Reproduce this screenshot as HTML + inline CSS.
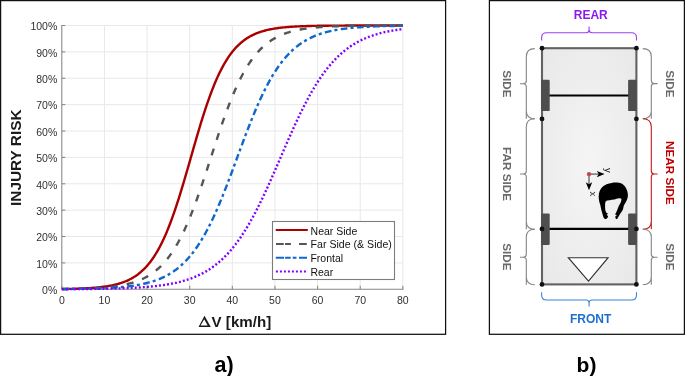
<!DOCTYPE html>
<html><head><meta charset="utf-8"><style>
html,body{margin:0;padding:0;background:#fff;}
svg{display:block;will-change:transform;font-family:"Liberation Sans",sans-serif;}
</style></head><body>
<svg width="685" height="376" viewBox="0 0 685 376">
<defs>
<radialGradient id="car" cx="0.5" cy="0.5" r="0.75">
<stop offset="0" stop-color="#f5f5f5"/><stop offset="1" stop-color="#e7e7e7"/>
</radialGradient>
</defs>
<rect x="0" y="0" width="685" height="376" fill="#fff"/>
<!-- panel a -->
<rect x="0.6" y="0.6" width="445" height="333.7" fill="none" stroke="#111" stroke-width="1.25"/>
<g stroke="#e8e8e8" stroke-width="1" fill="none"><line x1="104.43" y1="25.5" x2="104.43" y2="289.3"/><line x1="147.06" y1="25.5" x2="147.06" y2="289.3"/><line x1="189.69" y1="25.5" x2="189.69" y2="289.3"/><line x1="232.32" y1="25.5" x2="232.32" y2="289.3"/><line x1="274.96" y1="25.5" x2="274.96" y2="289.3"/><line x1="317.59" y1="25.5" x2="317.59" y2="289.3"/><line x1="360.22" y1="25.5" x2="360.22" y2="289.3"/><line x1="402.85" y1="25.5" x2="402.85" y2="289.3"/><line x1="61.8" y1="262.92" x2="402.85" y2="262.92"/><line x1="61.8" y1="236.54" x2="402.85" y2="236.54"/><line x1="61.8" y1="210.16" x2="402.85" y2="210.16"/><line x1="61.8" y1="183.78" x2="402.85" y2="183.78"/><line x1="61.8" y1="157.40" x2="402.85" y2="157.40"/><line x1="61.8" y1="131.02" x2="402.85" y2="131.02"/><line x1="61.8" y1="104.64" x2="402.85" y2="104.64"/><line x1="61.8" y1="78.26" x2="402.85" y2="78.26"/><line x1="61.8" y1="51.88" x2="402.85" y2="51.88"/><line x1="61.8" y1="25.50" x2="402.85" y2="25.50"/></g>
<g stroke="#868686" stroke-width="1.05" fill="none">
<line x1="61.8" y1="24.9" x2="61.8" y2="289.3"/><line x1="61.8" y1="289.3" x2="403.45000000000005" y2="289.3"/>
<line x1="61.80" y1="289.3" x2="61.80" y2="285.8"/><line x1="104.43" y1="289.3" x2="104.43" y2="285.8"/><line x1="147.06" y1="289.3" x2="147.06" y2="285.8"/><line x1="189.69" y1="289.3" x2="189.69" y2="285.8"/><line x1="232.32" y1="289.3" x2="232.32" y2="285.8"/><line x1="274.96" y1="289.3" x2="274.96" y2="285.8"/><line x1="317.59" y1="289.3" x2="317.59" y2="285.8"/><line x1="360.22" y1="289.3" x2="360.22" y2="285.8"/><line x1="402.85" y1="289.3" x2="402.85" y2="285.8"/><line x1="61.8" y1="289.30" x2="65.3" y2="289.30"/><line x1="61.8" y1="262.92" x2="65.3" y2="262.92"/><line x1="61.8" y1="236.54" x2="65.3" y2="236.54"/><line x1="61.8" y1="210.16" x2="65.3" y2="210.16"/><line x1="61.8" y1="183.78" x2="65.3" y2="183.78"/><line x1="61.8" y1="157.40" x2="65.3" y2="157.40"/><line x1="61.8" y1="131.02" x2="65.3" y2="131.02"/><line x1="61.8" y1="104.64" x2="65.3" y2="104.64"/><line x1="61.8" y1="78.26" x2="65.3" y2="78.26"/><line x1="61.8" y1="51.88" x2="65.3" y2="51.88"/><line x1="61.8" y1="25.50" x2="65.3" y2="25.50"/></g>
<g fill="none" stroke-width="2.4"><path d="M61.80,289.02 L62.87,289.01 L63.93,288.99 L65.00,288.97 L66.06,288.95 L67.13,288.93 L68.19,288.91 L69.26,288.89 L70.33,288.86 L71.39,288.84 L72.46,288.81 L73.52,288.78 L74.59,288.75 L75.66,288.72 L76.72,288.69 L77.79,288.65 L78.85,288.61 L79.92,288.57 L80.98,288.53 L82.05,288.49 L83.12,288.44 L84.18,288.39 L85.25,288.34 L86.31,288.28 L87.38,288.22 L88.44,288.16 L89.51,288.09 L90.58,288.02 L91.64,287.95 L92.71,287.87 L93.77,287.79 L94.84,287.70 L95.91,287.61 L96.97,287.51 L98.04,287.41 L99.10,287.30 L100.17,287.18 L101.23,287.06 L102.30,286.93 L103.37,286.79 L104.43,286.65 L105.50,286.49 L106.56,286.33 L107.63,286.16 L108.69,285.98 L109.76,285.79 L110.83,285.59 L111.89,285.38 L112.96,285.15 L114.02,284.91 L115.09,284.66 L116.15,284.40 L117.22,284.12 L118.29,283.82 L119.35,283.51 L120.42,283.18 L121.48,282.84 L122.55,282.47 L123.62,282.08 L124.68,281.68 L125.75,281.24 L126.81,280.79 L127.88,280.31 L128.94,279.81 L130.01,279.28 L131.08,278.72 L132.14,278.13 L133.21,277.51 L134.27,276.85 L135.34,276.16 L136.40,275.44 L137.47,274.68 L138.54,273.88 L139.60,273.03 L140.67,272.15 L141.73,271.22 L142.80,270.24 L143.87,269.22 L144.93,268.14 L146.00,267.01 L147.06,265.83 L148.13,264.59 L149.19,263.30 L150.26,261.94 L151.33,260.52 L152.39,259.04 L153.46,257.49 L154.52,255.87 L155.59,254.19 L156.65,252.43 L157.72,250.60 L158.79,248.69 L159.85,246.71 L160.92,244.65 L161.98,242.51 L163.05,240.29 L164.12,238.00 L165.18,235.62 L166.25,233.16 L167.31,230.62 L168.38,228.00 L169.44,225.29 L170.51,222.51 L171.58,219.65 L172.64,216.71 L173.71,213.70 L174.77,210.61 L175.84,207.45 L176.90,204.22 L177.97,200.93 L179.04,197.57 L180.10,194.16 L181.17,190.69 L182.23,187.17 L183.30,183.61 L184.36,180.01 L185.43,176.37 L186.50,172.70 L187.56,169.01 L188.63,165.30 L189.69,161.58 L190.76,157.85 L191.83,154.12 L192.89,150.39 L193.96,146.68 L195.02,142.98 L196.09,139.31 L197.15,135.66 L198.22,132.05 L199.29,128.48 L200.35,124.95 L201.42,121.47 L202.48,118.04 L203.55,114.67 L204.61,111.36 L205.68,108.12 L206.75,104.94 L207.81,101.84 L208.88,98.81 L209.94,95.85 L211.01,92.97 L212.08,90.17 L213.14,87.45 L214.21,84.80 L215.27,82.24 L216.34,79.77 L217.40,77.37 L218.47,75.05 L219.54,72.81 L220.60,70.66 L221.67,68.58 L222.73,66.58 L223.80,64.65 L224.86,62.80 L225.93,61.03 L227.00,59.33 L228.06,57.69 L229.13,56.13 L230.19,54.63 L231.26,53.19 L232.32,51.82 L233.39,50.51 L234.46,49.26 L235.52,48.07 L236.59,46.92 L237.65,45.84 L238.72,44.80 L239.79,43.81 L240.85,42.87 L241.92,41.98 L242.98,41.12 L244.05,40.31 L245.11,39.54 L246.18,38.81 L247.25,38.11 L248.31,37.45 L249.38,36.82 L250.44,36.22 L251.51,35.65 L252.57,35.12 L253.64,34.61 L254.71,34.12 L255.77,33.66 L256.84,33.23 L257.90,32.81 L258.97,32.42 L260.04,32.05 L261.10,31.70 L262.17,31.36 L263.23,31.05 L264.30,30.75 L265.36,30.47 L266.43,30.20 L267.50,29.94 L268.56,29.70 L269.63,29.48 L270.69,29.26 L271.76,29.06 L272.82,28.86 L273.89,28.68 L274.96,28.51 L276.02,28.34 L277.09,28.19 L278.15,28.04 L279.22,27.90 L280.29,27.77 L281.35,27.65 L282.42,27.53 L283.48,27.42 L284.55,27.32 L285.61,27.22 L286.68,27.12 L287.75,27.03 L288.81,26.95 L289.88,26.87 L290.94,26.80 L292.01,26.72 L293.07,26.66 L294.14,26.59 L295.21,26.53 L296.27,26.48 L297.34,26.42 L298.40,26.37 L299.47,26.33 L300.53,26.28 L301.60,26.24 L302.67,26.20 L303.73,26.16 L304.80,26.12 L305.86,26.09 L306.93,26.06 L308.00,26.03 L309.06,26.00 L310.13,25.97 L311.19,25.94 L312.26,25.92 L313.32,25.90 L314.39,25.87 L315.46,25.85 L316.52,25.83 L317.59,25.82 L318.65,25.80 L319.72,25.78 L320.78,25.77 L321.85,25.75 L322.92,25.74 L323.98,25.73 L325.05,25.71 L326.11,25.70 L327.18,25.69 L328.25,25.68 L329.31,25.67 L330.38,25.66 L331.44,25.65 L332.51,25.64 L333.57,25.64 L334.64,25.63 L335.71,25.62 L336.77,25.61 L337.84,25.61 L338.90,25.60 L339.97,25.60 L341.03,25.59 L342.10,25.59 L343.17,25.58 L344.23,25.58 L345.30,25.57 L346.36,25.57 L347.43,25.56 L348.50,25.56 L349.56,25.56 L350.63,25.55 L351.69,25.55 L352.76,25.55 L353.82,25.55 L354.89,25.54 L355.96,25.54 L357.02,25.54 L358.09,25.54 L359.15,25.53 L360.22,25.53 L361.28,25.53 L362.35,25.53 L363.42,25.53 L364.48,25.53 L365.55,25.52 L366.61,25.52 L367.68,25.52 L368.75,25.52 L369.81,25.52 L370.88,25.52 L371.94,25.52 L373.01,25.52 L374.07,25.52 L375.14,25.51 L376.21,25.51 L377.27,25.51 L378.34,25.51 L379.40,25.51 L380.47,25.51 L381.53,25.51 L382.60,25.51 L383.67,25.51 L384.73,25.51 L385.80,25.51 L386.86,25.51 L387.93,25.51 L388.99,25.51 L390.06,25.51 L391.13,25.51 L392.19,25.51 L393.26,25.51 L394.32,25.51 L395.39,25.51 L396.46,25.50 L397.52,25.50 L398.59,25.50 L399.65,25.50 L400.72,25.50 L401.78,25.50 L402.85,25.50" stroke="#aa0000"/><path d="M61.80,289.05 L62.87,289.04 L63.93,289.03 L65.00,289.01 L66.06,289.00 L67.13,288.98 L68.19,288.96 L69.26,288.95 L70.33,288.93 L71.39,288.91 L72.46,288.89 L73.52,288.87 L74.59,288.85 L75.66,288.83 L76.72,288.80 L77.79,288.78 L78.85,288.75 L79.92,288.72 L80.98,288.69 L82.05,288.66 L83.12,288.63 L84.18,288.59 L85.25,288.56 L86.31,288.52 L87.38,288.48 L88.44,288.44 L89.51,288.39 L90.58,288.35 L91.64,288.30 L92.71,288.25 L93.77,288.20 L94.84,288.14 L95.91,288.08 L96.97,288.02 L98.04,287.95 L99.10,287.89 L100.17,287.81 L101.23,287.74 L102.30,287.66 L103.37,287.58 L104.43,287.49 L105.50,287.40 L106.56,287.30 L107.63,287.20 L108.69,287.09 L109.76,286.98 L110.83,286.86 L111.89,286.74 L112.96,286.61 L114.02,286.48 L115.09,286.33 L116.15,286.18 L117.22,286.03 L118.29,285.86 L119.35,285.69 L120.42,285.51 L121.48,285.32 L122.55,285.12 L123.62,284.91 L124.68,284.69 L125.75,284.46 L126.81,284.21 L127.88,283.96 L128.94,283.69 L130.01,283.41 L131.08,283.12 L132.14,282.81 L133.21,282.49 L134.27,282.15 L135.34,281.80 L136.40,281.43 L137.47,281.04 L138.54,280.63 L139.60,280.20 L140.67,279.75 L141.73,279.28 L142.80,278.79 L143.87,278.28 L144.93,277.74 L146.00,277.18 L147.06,276.59 L148.13,275.98 L149.19,275.33 L150.26,274.66 L151.33,273.95 L152.39,273.22 L153.46,272.45 L154.52,271.65 L155.59,270.81 L156.65,269.94 L157.72,269.02 L158.79,268.07 L159.85,267.08 L160.92,266.05 L161.98,264.97 L163.05,263.85 L164.12,262.68 L165.18,261.46 L166.25,260.20 L167.31,258.89 L168.38,257.52 L169.44,256.10 L170.51,254.63 L171.58,253.10 L172.64,251.52 L173.71,249.88 L174.77,248.18 L175.84,246.43 L176.90,244.61 L177.97,242.73 L179.04,240.79 L180.10,238.79 L181.17,236.73 L182.23,234.60 L183.30,232.41 L184.36,230.16 L185.43,227.84 L186.50,225.46 L187.56,223.03 L188.63,220.53 L189.69,217.96 L190.76,215.34 L191.83,212.67 L192.89,209.93 L193.96,207.14 L195.02,204.30 L196.09,201.41 L197.15,198.47 L198.22,195.48 L199.29,192.45 L200.35,189.38 L201.42,186.27 L202.48,183.13 L203.55,179.96 L204.61,176.76 L205.68,173.54 L206.75,170.29 L207.81,167.03 L208.88,163.76 L209.94,160.49 L211.01,157.20 L212.08,153.92 L213.14,150.64 L214.21,147.37 L215.27,144.12 L216.34,140.88 L217.40,137.66 L218.47,134.46 L219.54,131.29 L220.60,128.15 L221.67,125.05 L222.73,121.98 L223.80,118.96 L224.86,115.98 L225.93,113.04 L227.00,110.15 L228.06,107.32 L229.13,104.54 L230.19,101.81 L231.26,99.14 L232.32,96.53 L233.39,93.97 L234.46,91.48 L235.52,89.05 L236.59,86.68 L237.65,84.37 L238.72,82.12 L239.79,79.94 L240.85,77.82 L241.92,75.77 L242.98,73.77 L244.05,71.84 L245.11,69.97 L246.18,68.16 L247.25,66.41 L248.31,64.72 L249.38,63.08 L250.44,61.51 L251.51,59.99 L252.57,58.52 L253.64,57.11 L254.71,55.75 L255.77,54.45 L256.84,53.19 L257.90,51.98 L258.97,50.82 L260.04,49.70 L261.10,48.63 L262.17,47.60 L263.23,46.61 L264.30,45.66 L265.36,44.76 L266.43,43.89 L267.50,43.05 L268.56,42.26 L269.63,41.49 L270.69,40.76 L271.76,40.06 L272.82,39.39 L273.89,38.75 L274.96,38.14 L276.02,37.55 L277.09,36.99 L278.15,36.46 L279.22,35.95 L280.29,35.46 L281.35,34.99 L282.42,34.55 L283.48,34.12 L284.55,33.72 L285.61,33.33 L286.68,32.96 L287.75,32.61 L288.81,32.27 L289.88,31.95 L290.94,31.64 L292.01,31.35 L293.07,31.07 L294.14,30.81 L295.21,30.56 L296.27,30.32 L297.34,30.09 L298.40,29.87 L299.47,29.66 L300.53,29.46 L301.60,29.27 L302.67,29.09 L303.73,28.92 L304.80,28.75 L305.86,28.60 L306.93,28.45 L308.00,28.31 L309.06,28.17 L310.13,28.04 L311.19,27.92 L312.26,27.80 L313.32,27.69 L314.39,27.59 L315.46,27.49 L316.52,27.39 L317.59,27.30 L318.65,27.21 L319.72,27.13 L320.78,27.05 L321.85,26.98 L322.92,26.91 L323.98,26.84 L325.05,26.77 L326.11,26.71 L327.18,26.65 L328.25,26.60 L329.31,26.54 L330.38,26.49 L331.44,26.45 L332.51,26.40 L333.57,26.36 L334.64,26.31 L335.71,26.28 L336.77,26.24 L337.84,26.20 L338.90,26.17 L339.97,26.14 L341.03,26.10 L342.10,26.08 L343.17,26.05 L344.23,26.02 L345.30,26.00 L346.36,25.97 L347.43,25.95 L348.50,25.93 L349.56,25.91 L350.63,25.89 L351.69,25.87 L352.76,25.85 L353.82,25.83 L354.89,25.82 L355.96,25.80 L357.02,25.79 L358.09,25.77 L359.15,25.76 L360.22,25.75 L361.28,25.74 L362.35,25.72 L363.42,25.71 L364.48,25.70 L365.55,25.69 L366.61,25.68 L367.68,25.67 L368.75,25.67 L369.81,25.66 L370.88,25.65 L371.94,25.64 L373.01,25.64 L374.07,25.63 L375.14,25.62 L376.21,25.62 L377.27,25.61 L378.34,25.61 L379.40,25.60 L380.47,25.60 L381.53,25.59 L382.60,25.59 L383.67,25.58 L384.73,25.58 L385.80,25.57 L386.86,25.57 L387.93,25.57 L388.99,25.56 L390.06,25.56 L391.13,25.56 L392.19,25.56 L393.26,25.55 L394.32,25.55 L395.39,25.55 L396.46,25.55 L397.52,25.54 L398.59,25.54 L399.65,25.54 L400.72,25.54 L401.78,25.54 L402.85,25.53" stroke="#555555" stroke-dasharray="7.05 9.17" stroke-dashoffset="-0.25"/><path d="M61.80,289.11 L62.87,289.10 L63.93,289.09 L65.00,289.08 L66.06,289.07 L67.13,289.06 L68.19,289.05 L69.26,289.04 L70.33,289.02 L71.39,289.01 L72.46,289.00 L73.52,288.99 L74.59,288.97 L75.66,288.96 L76.72,288.94 L77.79,288.92 L78.85,288.91 L79.92,288.89 L80.98,288.87 L82.05,288.85 L83.12,288.83 L84.18,288.81 L85.25,288.79 L86.31,288.77 L87.38,288.74 L88.44,288.72 L89.51,288.69 L90.58,288.67 L91.64,288.64 L92.71,288.61 L93.77,288.58 L94.84,288.55 L95.91,288.51 L96.97,288.48 L98.04,288.44 L99.10,288.40 L100.17,288.36 L101.23,288.32 L102.30,288.28 L103.37,288.23 L104.43,288.18 L105.50,288.13 L106.56,288.08 L107.63,288.03 L108.69,287.97 L109.76,287.91 L110.83,287.85 L111.89,287.78 L112.96,287.72 L114.02,287.64 L115.09,287.57 L116.15,287.49 L117.22,287.41 L118.29,287.33 L119.35,287.24 L120.42,287.15 L121.48,287.06 L122.55,286.96 L123.62,286.85 L124.68,286.74 L125.75,286.63 L126.81,286.51 L127.88,286.39 L128.94,286.26 L130.01,286.13 L131.08,285.99 L132.14,285.84 L133.21,285.69 L134.27,285.53 L135.34,285.36 L136.40,285.19 L137.47,285.01 L138.54,284.82 L139.60,284.62 L140.67,284.41 L141.73,284.20 L142.80,283.98 L143.87,283.74 L144.93,283.50 L146.00,283.24 L147.06,282.98 L148.13,282.70 L149.19,282.42 L150.26,282.12 L151.33,281.80 L152.39,281.48 L153.46,281.14 L154.52,280.79 L155.59,280.42 L156.65,280.03 L157.72,279.63 L158.79,279.22 L159.85,278.78 L160.92,278.33 L161.98,277.86 L163.05,277.37 L164.12,276.87 L165.18,276.34 L166.25,275.79 L167.31,275.21 L168.38,274.62 L169.44,274.00 L170.51,273.35 L171.58,272.69 L172.64,271.99 L173.71,271.27 L174.77,270.52 L175.84,269.74 L176.90,268.93 L177.97,268.09 L179.04,267.22 L180.10,266.32 L181.17,265.38 L182.23,264.41 L183.30,263.41 L184.36,262.37 L185.43,261.29 L186.50,260.18 L187.56,259.02 L188.63,257.83 L189.69,256.59 L190.76,255.32 L191.83,254.00 L192.89,252.64 L193.96,251.23 L195.02,249.78 L196.09,248.29 L197.15,246.75 L198.22,245.16 L199.29,243.53 L200.35,241.85 L201.42,240.12 L202.48,238.35 L203.55,236.52 L204.61,234.65 L205.68,232.72 L206.75,230.75 L207.81,228.73 L208.88,226.67 L209.94,224.55 L211.01,222.39 L212.08,220.18 L213.14,217.92 L214.21,215.62 L215.27,213.27 L216.34,210.87 L217.40,208.44 L218.47,205.96 L219.54,203.45 L220.60,200.89 L221.67,198.30 L222.73,195.67 L223.80,193.01 L224.86,190.31 L225.93,187.59 L227.00,184.84 L228.06,182.06 L229.13,179.27 L230.19,176.45 L231.26,173.61 L232.32,170.76 L233.39,167.89 L234.46,165.02 L235.52,162.14 L236.59,159.25 L237.65,156.36 L238.72,153.47 L239.79,150.59 L240.85,147.71 L241.92,144.84 L242.98,141.99 L244.05,139.15 L245.11,136.32 L246.18,133.52 L247.25,130.74 L248.31,127.98 L249.38,125.25 L250.44,122.54 L251.51,119.87 L252.57,117.24 L253.64,114.63 L254.71,112.07 L255.77,109.54 L256.84,107.05 L257.90,104.60 L258.97,102.20 L260.04,99.84 L261.10,97.52 L262.17,95.25 L263.23,93.03 L264.30,90.85 L265.36,88.72 L266.43,86.64 L267.50,84.61 L268.56,82.62 L269.63,80.69 L270.69,78.80 L271.76,76.96 L272.82,75.17 L273.89,73.43 L274.96,71.73 L276.02,70.09 L277.09,68.49 L278.15,66.94 L279.22,65.43 L280.29,63.97 L281.35,62.55 L282.42,61.18 L283.48,59.85 L284.55,58.56 L285.61,57.31 L286.68,56.11 L287.75,54.94 L288.81,53.82 L289.88,52.73 L290.94,51.68 L292.01,50.66 L293.07,49.68 L294.14,48.74 L295.21,47.83 L296.27,46.95 L297.34,46.10 L298.40,45.28 L299.47,44.50 L300.53,43.74 L301.60,43.01 L302.67,42.31 L303.73,41.63 L304.80,40.98 L305.86,40.35 L306.93,39.75 L308.00,39.17 L309.06,38.62 L310.13,38.08 L311.19,37.57 L312.26,37.07 L313.32,36.60 L314.39,36.14 L315.46,35.70 L316.52,35.28 L317.59,34.88 L318.65,34.49 L319.72,34.12 L320.78,33.76 L321.85,33.42 L322.92,33.09 L323.98,32.77 L325.05,32.47 L326.11,32.18 L327.18,31.90 L328.25,31.63 L329.31,31.37 L330.38,31.13 L331.44,30.89 L332.51,30.66 L333.57,30.45 L334.64,30.24 L335.71,30.04 L336.77,29.85 L337.84,29.66 L338.90,29.49 L339.97,29.32 L341.03,29.16 L342.10,29.00 L343.17,28.85 L344.23,28.71 L345.30,28.58 L346.36,28.45 L347.43,28.32 L348.50,28.20 L349.56,28.09 L350.63,27.98 L351.69,27.87 L352.76,27.77 L353.82,27.67 L354.89,27.58 L355.96,27.49 L357.02,27.41 L358.09,27.33 L359.15,27.25 L360.22,27.18 L361.28,27.10 L362.35,27.04 L363.42,26.97 L364.48,26.91 L365.55,26.85 L366.61,26.79 L367.68,26.74 L368.75,26.68 L369.81,26.63 L370.88,26.58 L371.94,26.54 L373.01,26.49 L374.07,26.45 L375.14,26.41 L376.21,26.37 L377.27,26.33 L378.34,26.30 L379.40,26.26 L380.47,26.23 L381.53,26.20 L382.60,26.17 L383.67,26.14 L384.73,26.11 L385.80,26.09 L386.86,26.06 L387.93,26.04 L388.99,26.02 L390.06,25.99 L391.13,25.97 L392.19,25.95 L393.26,25.93 L394.32,25.91 L395.39,25.90 L396.46,25.88 L397.52,25.86 L398.59,25.85 L399.65,25.83 L400.72,25.82 L401.78,25.81 L402.85,25.79" stroke="#1068cc" stroke-dasharray="6.73 3.12 3.0 3.37" stroke-dashoffset="-0.6"/><path d="M61.80,289.18 L62.87,289.17 L63.93,289.17 L65.00,289.16 L66.06,289.16 L67.13,289.15 L68.19,289.15 L69.26,289.14 L70.33,289.14 L71.39,289.13 L72.46,289.12 L73.52,289.12 L74.59,289.11 L75.66,289.10 L76.72,289.10 L77.79,289.09 L78.85,289.08 L79.92,289.07 L80.98,289.06 L82.05,289.05 L83.12,289.04 L84.18,289.03 L85.25,289.02 L86.31,289.01 L87.38,289.00 L88.44,288.99 L89.51,288.98 L90.58,288.97 L91.64,288.95 L92.71,288.94 L93.77,288.93 L94.84,288.91 L95.91,288.90 L96.97,288.88 L98.04,288.87 L99.10,288.85 L100.17,288.83 L101.23,288.82 L102.30,288.80 L103.37,288.78 L104.43,288.76 L105.50,288.74 L106.56,288.72 L107.63,288.69 L108.69,288.67 L109.76,288.65 L110.83,288.62 L111.89,288.60 L112.96,288.57 L114.02,288.54 L115.09,288.51 L116.15,288.48 L117.22,288.45 L118.29,288.42 L119.35,288.39 L120.42,288.35 L121.48,288.32 L122.55,288.28 L123.62,288.24 L124.68,288.20 L125.75,288.16 L126.81,288.12 L127.88,288.07 L128.94,288.02 L130.01,287.98 L131.08,287.92 L132.14,287.87 L133.21,287.82 L134.27,287.76 L135.34,287.70 L136.40,287.64 L137.47,287.58 L138.54,287.52 L139.60,287.45 L140.67,287.38 L141.73,287.31 L142.80,287.23 L143.87,287.15 L144.93,287.07 L146.00,286.99 L147.06,286.90 L148.13,286.81 L149.19,286.71 L150.26,286.62 L151.33,286.52 L152.39,286.41 L153.46,286.30 L154.52,286.19 L155.59,286.07 L156.65,285.95 L157.72,285.82 L158.79,285.69 L159.85,285.56 L160.92,285.42 L161.98,285.27 L163.05,285.12 L164.12,284.96 L165.18,284.80 L166.25,284.63 L167.31,284.46 L168.38,284.28 L169.44,284.09 L170.51,283.89 L171.58,283.69 L172.64,283.48 L173.71,283.27 L174.77,283.04 L175.84,282.81 L176.90,282.57 L177.97,282.32 L179.04,282.06 L180.10,281.79 L181.17,281.51 L182.23,281.22 L183.30,280.92 L184.36,280.62 L185.43,280.30 L186.50,279.96 L187.56,279.62 L188.63,279.27 L189.69,278.90 L190.76,278.52 L191.83,278.13 L192.89,277.72 L193.96,277.30 L195.02,276.86 L196.09,276.41 L197.15,275.94 L198.22,275.46 L199.29,274.96 L200.35,274.44 L201.42,273.91 L202.48,273.36 L203.55,272.79 L204.61,272.20 L205.68,271.59 L206.75,270.96 L207.81,270.32 L208.88,269.65 L209.94,268.95 L211.01,268.24 L212.08,267.50 L213.14,266.74 L214.21,265.96 L215.27,265.15 L216.34,264.32 L217.40,263.46 L218.47,262.57 L219.54,261.66 L220.60,260.72 L221.67,259.75 L222.73,258.75 L223.80,257.73 L224.86,256.67 L225.93,255.59 L227.00,254.47 L228.06,253.33 L229.13,252.15 L230.19,250.94 L231.26,249.69 L232.32,248.42 L233.39,247.11 L234.46,245.76 L235.52,244.39 L236.59,242.97 L237.65,241.53 L238.72,240.05 L239.79,238.53 L240.85,236.98 L241.92,235.39 L242.98,233.77 L244.05,232.11 L245.11,230.41 L246.18,228.69 L247.25,226.92 L248.31,225.12 L249.38,223.29 L250.44,221.42 L251.51,219.51 L252.57,217.57 L253.64,215.60 L254.71,213.60 L255.77,211.56 L256.84,209.50 L257.90,207.40 L258.97,205.27 L260.04,203.11 L261.10,200.93 L262.17,198.71 L263.23,196.47 L264.30,194.21 L265.36,191.92 L266.43,189.61 L267.50,187.28 L268.56,184.93 L269.63,182.56 L270.69,180.17 L271.76,177.77 L272.82,175.35 L273.89,172.93 L274.96,170.49 L276.02,168.04 L277.09,165.58 L278.15,163.12 L279.22,160.66 L280.29,158.19 L281.35,155.72 L282.42,153.25 L283.48,150.79 L284.55,148.33 L285.61,145.88 L286.68,143.43 L287.75,141.00 L288.81,138.57 L289.88,136.16 L290.94,133.77 L292.01,131.39 L293.07,129.02 L294.14,126.68 L295.21,124.35 L296.27,122.05 L297.34,119.77 L298.40,117.52 L299.47,115.29 L300.53,113.08 L301.60,110.91 L302.67,108.76 L303.73,106.64 L304.80,104.56 L305.86,102.50 L306.93,100.48 L308.00,98.48 L309.06,96.52 L310.13,94.60 L311.19,92.71 L312.26,90.85 L313.32,89.03 L314.39,87.24 L315.46,85.49 L316.52,83.77 L317.59,82.09 L318.65,80.44 L319.72,78.83 L320.78,77.26 L321.85,75.72 L322.92,74.22 L323.98,72.75 L325.05,71.31 L326.11,69.91 L327.18,68.55 L328.25,67.22 L329.31,65.92 L330.38,64.65 L331.44,63.42 L332.51,62.22 L333.57,61.06 L334.64,59.92 L335.71,58.82 L336.77,57.74 L337.84,56.70 L338.90,55.68 L339.97,54.70 L341.03,53.74 L342.10,52.81 L343.17,51.91 L344.23,51.03 L345.30,50.18 L346.36,49.36 L347.43,48.56 L348.50,47.78 L349.56,47.03 L350.63,46.30 L351.69,45.59 L352.76,44.91 L353.82,44.25 L354.89,43.61 L355.96,42.99 L357.02,42.38 L358.09,41.80 L359.15,41.24 L360.22,40.69 L361.28,40.17 L362.35,39.66 L363.42,39.16 L364.48,38.69 L365.55,38.23 L366.61,37.78 L367.68,37.35 L368.75,36.93 L369.81,36.53 L370.88,36.14 L371.94,35.77 L373.01,35.40 L374.07,35.05 L375.14,34.71 L376.21,34.39 L377.27,34.07 L378.34,33.77 L379.40,33.47 L380.47,33.19 L381.53,32.91 L382.60,32.65 L383.67,32.39 L384.73,32.15 L385.80,31.91 L386.86,31.68 L387.93,31.46 L388.99,31.24 L390.06,31.04 L391.13,30.84 L392.19,30.64 L393.26,30.46 L394.32,30.28 L395.39,30.11 L396.46,29.94 L397.52,29.78 L398.59,29.63 L399.65,29.48 L400.72,29.33 L401.78,29.19 L402.85,29.06" stroke="#8000ff" stroke-dasharray="1.95 2.105" stroke-dashoffset="-0.0"/></g>
<g font-size="10.5" fill="#303030"><text x="61.80" y="304.0" text-anchor="middle">0</text><text x="104.43" y="304.0" text-anchor="middle">10</text><text x="147.06" y="304.0" text-anchor="middle">20</text><text x="189.69" y="304.0" text-anchor="middle">30</text><text x="232.32" y="304.0" text-anchor="middle">40</text><text x="274.96" y="304.0" text-anchor="middle">50</text><text x="317.59" y="304.0" text-anchor="middle">60</text><text x="360.22" y="304.0" text-anchor="middle">70</text><text x="402.85" y="304.0" text-anchor="middle">80</text><text x="57.3" y="294.10" text-anchor="end">0%</text><text x="57.3" y="267.72" text-anchor="end">10%</text><text x="57.3" y="241.34" text-anchor="end">20%</text><text x="57.3" y="214.96" text-anchor="end">30%</text><text x="57.3" y="188.58" text-anchor="end">40%</text><text x="57.3" y="162.20" text-anchor="end">50%</text><text x="57.3" y="135.82" text-anchor="end">60%</text><text x="57.3" y="109.44" text-anchor="end">70%</text><text x="57.3" y="83.06" text-anchor="end">80%</text><text x="57.3" y="56.68" text-anchor="end">90%</text><text x="57.3" y="30.30" text-anchor="end">100%</text></g>
<text x="20.8" y="157.75" transform="rotate(-90 20.8 157.75)" text-anchor="middle" font-size="14" font-weight="bold" fill="#1a1a1a" textLength="96.5" lengthAdjust="spacingAndGlyphs">INJURY RISK</text>
<path d="M204.5,315.7 L198.5,326.9 L210.8,326.9 Z M204.2,319.2 L200.5,325.5 L207.7,325.5 Z" fill="#1a1a1a" fill-rule="evenodd"/>
<text x="211.6" y="326.8" font-size="14.6" font-weight="bold" fill="#1a1a1a" textLength="59.6" lengthAdjust="spacingAndGlyphs">V [km/h]</text>
<!-- legend -->
<rect x="272.5" y="221.5" width="122" height="58" fill="#fff" stroke="#7c7c7c" stroke-width="1.1"/>
<g stroke-width="2" fill="none">
<line x1="275.7" y1="229.95" x2="307.8" y2="229.95" stroke="#aa0000"/>
<path d="M276,243.9 H283.8 M285.1,243.9 H290.9 M299,243.9 H306.8" stroke="#555555"/>
<path d="M275.8,257.7 H284.1 M285.1,257.7 H290.7 M292.7,257.7 H296.5 M299,257.7 H307" stroke="#1068cc"/>
<line x1="275.9" y1="271.6" x2="308" y2="271.6" stroke="#8000ff" stroke-dasharray="2 2"/>
</g>
<g font-size="10.5" fill="#111">
<text x="310.6" y="234.5">Near Side</text>
<text x="310.6" y="248.3" textLength="81.2" lengthAdjust="spacingAndGlyphs">Far Side (&amp; Side)</text>
<text x="310.4" y="262">Frontal</text>
<text x="310.4" y="275.6">Rear</text>
</g>
<!-- panel b -->
<rect x="489.4" y="0.6" width="195" height="333.7" fill="none" stroke="#111" stroke-width="1.25"/>
<rect x="542.0" y="48.2" width="94.39999999999998" height="236.2" fill="url(#car)" stroke="#626262" stroke-width="2.1"/>
<g fill="#4e4e4e">
<rect x="541.1" y="79.8" width="8.6" height="31.3" rx="1.2"/>
<rect x="628.1" y="79.8" width="8.6" height="31.3" rx="1.2"/>
<rect x="541.1" y="213.4" width="8.6" height="31.5" rx="1.2"/>
<rect x="628.1" y="213.4" width="8.6" height="31.5" rx="1.2"/>
</g>
<g stroke="#000" stroke-width="2.2">
<line x1="549.5" y1="95.5" x2="628.4" y2="95.5"/>
<line x1="549.5" y1="228.9" x2="628.4" y2="228.9"/>
</g>
<g fill="#111">
<circle cx="542.0" cy="48.2" r="2.4"/><circle cx="636.4" cy="48.2" r="2.4"/>
<circle cx="542.0" cy="118.9" r="2.4"/><circle cx="636.4" cy="118.9" r="2.4"/>
<circle cx="542.0" cy="228.9" r="2.4"/><circle cx="636.4" cy="228.9" r="2.4"/>
<circle cx="542.0" cy="284.4" r="2.4"/><circle cx="636.4" cy="284.4" r="2.4"/>
</g>
<path d="M568.3,257.7 L608.1,257.7 L588.5,281.1 Z" fill="#fff" stroke="#333" stroke-width="1.1"/>
<!-- coordinate axes -->
<g stroke="#555" stroke-width="1.2" fill="none">
<line x1="589" y1="174.1" x2="599" y2="174.1"/>
<line x1="589" y1="174.1" x2="589" y2="184.5"/>
</g>
<g fill="#000">
<path d="M596.8,170.9 L604.6,174.1 L596.8,177.3 L598.7,174.1 Z"/>
<path d="M585.8,182.3 L589,190.2 L592.2,182.3 L589,184.2 Z"/>
</g>
<circle cx="589" cy="174.1" r="2.2" fill="#c44848"/>
<text x="608.9" y="170.4" transform="rotate(90 608.9 170.4)" font-size="9.5" fill="#111" text-anchor="middle" dominant-baseline="central">y</text>
<text x="593.2" y="194" transform="rotate(90 593.2 194)" font-size="9.6" fill="#222" text-anchor="middle" dominant-baseline="central">x</text>
<!-- head -->
<path d="M616.20,182.60 C617.83,182.72 620.00,182.90 621.50,183.60 C623.00,184.30 624.23,185.53 625.20,186.80 C626.17,188.07 626.85,189.77 627.30,191.20 C627.75,192.63 627.90,194.13 627.90,195.40 C627.90,196.67 627.65,197.65 627.30,198.80 C626.95,199.95 626.37,201.18 625.80,202.30 C625.23,203.42 624.40,204.25 623.90,205.50 C623.40,206.75 623.33,208.55 622.80,209.80 C622.27,211.05 621.38,211.93 620.70,213.00 C620.02,214.07 619.23,215.28 618.70,216.20 C618.17,217.12 617.92,218.02 617.50,218.50 C617.08,218.98 616.52,219.15 616.20,219.10 C615.88,219.05 615.75,218.62 615.60,218.20 C615.45,217.78 615.13,217.07 615.30,216.60 C615.47,216.13 616.60,215.73 616.60,215.40 C616.60,215.07 615.47,214.90 615.30,214.60 C615.13,214.30 615.35,214.20 615.60,213.60 C615.85,213.00 616.42,211.90 616.80,211.00 C617.18,210.10 617.48,209.20 617.90,208.20 C618.32,207.20 618.80,206.03 619.30,205.00 C619.80,203.97 620.57,203.03 620.90,202.00 C621.23,200.97 621.65,199.43 621.30,198.80 C620.95,198.17 620.00,198.07 618.80,198.20 C617.60,198.33 615.60,199.27 614.10,199.60 C612.60,199.93 611.05,200.02 609.80,200.20 C608.55,200.38 607.35,200.32 606.60,200.70 C605.85,201.08 605.55,201.70 605.30,202.50 C605.05,203.30 605.12,204.42 605.10,205.50 C605.08,206.58 605.05,207.88 605.20,209.00 C605.35,210.12 605.53,211.40 606.00,212.20 C606.47,213.00 607.88,213.37 608.00,213.80 C608.12,214.23 606.70,214.40 606.70,214.80 C606.70,215.20 607.90,215.68 608.00,216.20 C608.10,216.72 607.62,217.45 607.30,217.90 C606.98,218.35 606.45,218.72 606.10,218.90 C605.75,219.08 605.52,219.07 605.20,219.00 C604.88,218.93 604.52,218.87 604.20,218.50 C603.88,218.13 603.63,217.72 603.30,216.80 C602.97,215.88 602.57,214.30 602.20,213.00 C601.83,211.70 601.42,210.33 601.10,209.00 C600.78,207.67 600.62,206.28 600.30,205.00 C599.98,203.72 599.47,202.80 599.20,201.30 C598.93,199.80 598.63,197.68 598.70,196.00 C598.77,194.32 599.00,192.72 599.60,191.20 C600.20,189.68 601.13,188.07 602.30,186.90 C603.47,185.73 605.03,184.87 606.60,184.20 C608.17,183.53 610.10,183.17 611.70,182.90 C613.30,182.63 614.57,182.48 616.20,182.60Z" fill="#000"/>
<g fill="none" stroke-width="1.1"><path d="M534.8,48.6 Q526.3,48.6 526.3,56.6 L526.3,80.8 Q526.3,83.8 523.3,83.8 L520.0,83.8 M526.3,118.7 L526.3,86.8 Q526.3,83.8 523.3,83.8 M526.3,110.7 Q526.3,118.7 534.8,118.7" stroke="#858585"/><path d="M534.8,118.7 Q526.3,118.7 526.3,126.7 L526.3,171.0 Q526.3,174.0 523.3,174.0 L520.0,174.0 M526.3,229.2 L526.3,177.0 Q526.3,174.0 523.3,174.0 M526.3,221.2 Q526.3,229.2 534.8,229.2" stroke="#858585"/><path d="M534.8,229.2 Q526.3,229.2 526.3,237.2 L526.3,254.3 Q526.3,257.3 523.3,257.3 L520.0,257.3 M526.3,284.7 L526.3,260.3 Q526.3,257.3 523.3,257.3 M526.3,276.7 Q526.3,284.7 534.8,284.7" stroke="#858585"/><path d="M642.8,48.6 Q651.3,48.6 651.3,56.6 L651.3,80.6 Q651.3,83.6 654.3,83.6 L657.5999999999999,83.6 M651.3,118.7 L651.3,86.6 Q651.3,83.6 654.3,83.6 M651.3,110.7 Q651.3,118.7 642.8,118.7" stroke="#858585"/><path d="M642.8,118.7 Q651.3,118.7 651.3,126.7 L651.3,171.0 Q651.3,174.0 654.3,174.0 L657.5999999999999,174.0 M651.3,229.2 L651.3,177.0 Q651.3,174.0 654.3,174.0 M651.3,221.2 Q651.3,229.2 642.8,229.2" stroke="#c01818"/><path d="M642.8,229.2 Q651.3,229.2 651.3,237.2 L651.3,254.3 Q651.3,257.3 654.3,257.3 L657.5999999999999,257.3 M651.3,284.7 L651.3,260.3 Q651.3,257.3 654.3,257.3 M651.3,276.7 Q651.3,284.7 642.8,284.7" stroke="#858585"/><path d="M541.6,40.6 L541.6,37.800000000000004 Q541.6,32.800000000000004 546.6,32.800000000000004 L586.1,32.800000000000004 Q589.1,32.800000000000004 589.1,29.800000000000004 L589.1,26.400000000000002 M589.1,29.800000000000004 Q589.1,32.800000000000004 592.1,32.800000000000004 L631.5,32.800000000000004 Q636.5,32.800000000000004 636.5,37.800000000000004 L636.5,40.6" stroke="#9a40f2"/><path d="M541.6,292.2 L541.6,295.0 Q541.6,300.0 546.6,300.0 L586.1,300.0 Q589.1,300.0 589.1,303.0 L589.1,306.4 M589.1,303.0 Q589.1,300.0 592.1,300.0 L631.5,300.0 Q636.5,300.0 636.5,295.0 L636.5,292.2" stroke="#3a86d6"/></g>
<g stroke="none">
<text x="502.5" y="83.9" transform="rotate(90 502.5 83.9)" text-anchor="middle" fill="#6a6a6a" font-weight="bold" font-size="11.7">SIDE</text>
<text x="502.5" y="174" transform="rotate(90 502.5 174)" text-anchor="middle" fill="#6a6a6a" font-weight="bold" font-size="11.7">FAR SIDE</text>
<text x="502.5" y="256.9" transform="rotate(90 502.5 256.9)" text-anchor="middle" fill="#6a6a6a" font-weight="bold" font-size="11.7">SIDE</text>
<text x="665.7" y="83.8" transform="rotate(90 665.7 83.8)" text-anchor="middle" fill="#6a6a6a" font-weight="bold" font-size="11.7">SIDE</text>
<text x="665.7" y="172.9" transform="rotate(90 665.7 172.9)" text-anchor="middle" fill="#c00000" font-weight="bold" font-size="11.7">NEAR SIDE</text>
<text x="665.7" y="256.8" transform="rotate(90 665.7 256.8)" text-anchor="middle" fill="#6a6a6a" font-weight="bold" font-size="11.7">SIDE</text>
</g>
<text x="590.8" y="19.4" text-anchor="middle" font-size="12" font-weight="bold" fill="#8a18f0">REAR</text>
<text x="590.6" y="322.7" text-anchor="middle" font-size="12" font-weight="bold" fill="#1c6fd1">FRONT</text>
<!-- captions -->
<text x="224" y="371.6" text-anchor="middle" font-size="21.5" font-weight="bold" fill="#000">a)</text>
<text x="586.5" y="371.6" text-anchor="middle" font-size="21" font-weight="bold" fill="#000">b)</text>
</svg>
</body></html>
